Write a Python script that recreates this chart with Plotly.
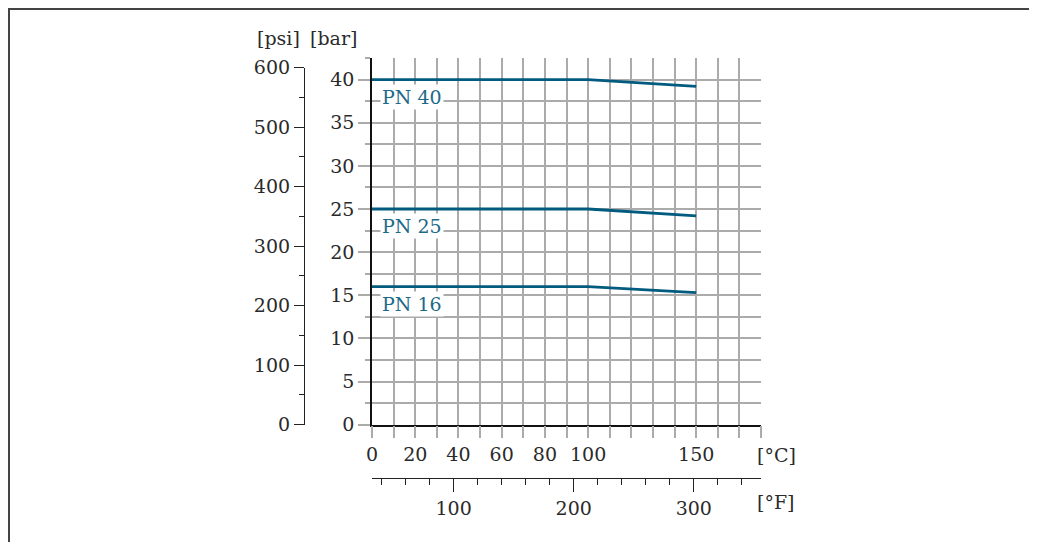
import plotly.graph_objects as go

# ---- data ----
temps_c = [0, 100, 150]
pn40 = [40, 40, 39.2]
pn25 = [25, 25, 24.2]
pn16 = [16, 16, 15.3]
series_names = ["PN 40", "PN 25", "PN 16"]
celsius_ticks = [0, 20, 40, 60, 80, 100, 150]
fahrenheit_ticks = [100, 200, 300]
bar_ticks = [0, 5, 10, 15, 20, 25, 30, 35, 40]
psi_ticks = [0, 100, 200, 300, 400, 500, 600]

FONT = "DejaVu Serif"
TXT = "#2a2a2a"
GRID = "#ababab"
LINE = "#005b7f"
LABEL = "#1d6a88"

OFF = 8  # page body margin
W, H = 1029, 534
ML, MR, MT, MB = 242, 276, 50, 22
PW = W - ML - MR
PH = H - MT - MB

def px_x(s):
    return (s - OFF - ML) / PW

def px_y(s):
    return (H - MB - (s - OFF)) / PH

x_dom0 = px_x(372)
y_dom0 = px_y(424.7)
y_max = 42.5
psi_per_bar = 14.5038
psi_top = y_dom0 + (600 / psi_per_bar) / y_max * (1 - y_dom0)

fig = go.Figure()
for name, vals in zip(series_names, [pn40, pn25, pn16]):
    fig.add_trace(go.Scatter(x=temps_c, y=vals, mode="lines",
                             line=dict(color=LINE, width=2.8),
                             showlegend=False, hoverinfo="skip"))
    fig.add_annotation(x=temps_c[0], y=vals[0], xref="x", yref="y",
                       text=name, showarrow=False, xanchor="left", yanchor="top",
                       xshift=8, yshift=-4, bgcolor="white", borderpad=1,
                       font=dict(family=FONT, size=19, color=LABEL))

# dummy traces to activate secondary axes
fig.add_trace(go.Scatter(x=[None], y=[None], xaxis="x2", yaxis="y",
                         showlegend=False, hoverinfo="skip"))
fig.add_trace(go.Scatter(x=[None], y=[None], xaxis="x3", yaxis="y2",
                         showlegend=False, hoverinfo="skip"))

fig.update_layout(
    width=W, height=H,
    margin=dict(l=ML, r=MR, t=MT, b=MB),
    paper_bgcolor="white", plot_bgcolor="rgba(0,0,0,0)",
    font=dict(family=FONT, size=19, color=TXT),
    xaxis=dict(domain=[x_dom0, 1], range=[0, 180], anchor="y",
               tickvals=celsius_ticks, ticks="outside", ticklen=12,
               tickcolor=GRID, tickwidth=1.5, showgrid=True, gridcolor=GRID,
               gridwidth=1.5, showline=True, linecolor="#111", linewidth=1.5,
               zeroline=False,
               minor=dict(tick0=0, dtick=10, ticks="outside", ticklen=12,
                          tickcolor=GRID, tickwidth=1.5, showgrid=True,
                          gridcolor=GRID, gridwidth=1.5)),
    yaxis=dict(domain=[y_dom0, 1], range=[0, y_max], anchor="x",
               tickvals=bar_ticks, ticks="outside", ticklen=12,
               tickcolor=GRID, tickwidth=1.5, showgrid=True, gridcolor=GRID,
               gridwidth=1.5, showline=True, linecolor="#111", linewidth=1.5,
               zeroline=False,
               minor=dict(tick0=0, dtick=2.5, ticks="outside", ticklen=5,
                          tickcolor=GRID, tickwidth=1.5, showgrid=True,
                          gridcolor=GRID, gridwidth=1.5)),
    xaxis2=dict(domain=[x_dom0, 1], range=[32, 32 + 180 * 1.8],
                anchor="free", position=px_y(478), overlaying="x",
                side="bottom", tickvals=fahrenheit_ticks, ticks="outside",
                ticklen=13, tickcolor="#222", tickwidth=1.2,
                showline=True, linecolor="#222", linewidth=1.2,
                showgrid=False, zeroline=False,
                minor=dict(tick0=0, dtick=20, ticks="outside", ticklen=6,
                           tickcolor="#222", tickwidth=1.2, showgrid=False)),
    xaxis3=dict(domain=[px_x(305), px_x(306)], range=[0, 1], anchor="y2",
                visible=False, showgrid=False, zeroline=False),
    yaxis2=dict(domain=[y_dom0, psi_top], range=[0, 600],
                anchor="x3", side="left", tickvals=psi_ticks, ticks="outside",
                ticklen=10, tickcolor="#222", tickwidth=1.2,
                showline=True, linecolor="#222", linewidth=1.2,
                showgrid=False, zeroline=False,
                minor=dict(tick0=0, dtick=50, ticks="outside", ticklen=5,
                           tickcolor="#222", tickwidth=1.2, showgrid=False)),
)

for txt, sx, sy in [("[psi]", 278, 38), ("[bar]", 333, 38),
                    ("[°C]", 776, 455), ("[°F]", 776, 502)]:
    fig.add_annotation(text=txt, xref="paper", yref="paper",
                       x=px_x(sx), y=px_y(sy), showarrow=False,
                       xanchor="center", yanchor="middle",
                       font=dict(family=FONT, size=19, color=TXT))

# outer frame
fig.add_shape(type="rect", xref="paper", yref="paper",
              x0=px_x(9), x1=px_x(1036), y0=px_y(560), y1=px_y(9),
              line=dict(color="#444", width=2), fillcolor="rgba(0,0,0,0)")

fig.write_html("out.html")
